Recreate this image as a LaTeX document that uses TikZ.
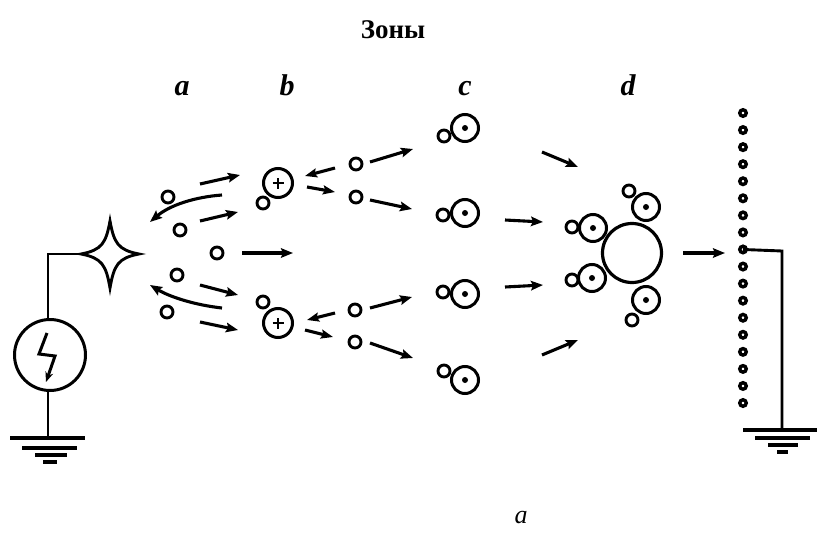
\documentclass[tikz,border=0pt]{standalone}
\usepackage{fontspec}
\setmainfont{Liberation Serif}
\usetikzlibrary{arrows.meta}

\tikzset{
  wire/.style={line width=2.9pt},
  earth/.style={line width=4pt},
  ion/.style={circle, draw, line width=2.9pt, minimum size=12pt, inner sep=0pt},
  posion/.style={circle, draw, line width=3pt, minimum size=29pt, inner sep=0pt},
  ring/.style={circle, draw, line width=3pt, minimum size=27pt, inner sep=0pt},
  core/.style={circle, fill, minimum size=6pt, inner sep=0pt},
  drop/.style={circle, draw, line width=3.2pt, minimum size=59pt, inner sep=0pt},
  bead/.style={circle, draw, line width=3.4pt, minimum size=6.5pt, inner sep=0pt},
  flow/.style={line width=3.1pt, -{Stealth[length=12pt,width=9.5pt,inset=2pt]}},
  shortflow/.style={line width=3.1pt, -{Stealth[length=12pt,width=9pt,inset=2pt]}},
  zone/.style={font=\fontsize{30}{30}\selectfont\bfseries\itshape, anchor=base},
}

\begin{document}
\begin{tikzpicture}[x=1pt, y=-1pt]
\useasboundingbox (0,0) rectangle (828,533);

% titles
\node[font=\fontsize{27}{27}\selectfont\bfseries, anchor=base] (title) at (393,38) {Зоны};
\node[zone] (za) at (182,95) {a};
\node[zone] (zb) at (287,95) {b};
\node[zone] (zc) at (465,95) {c};
\node[zone] (zd) at (628,95) {d};
\node[font=\fontsize{26}{26}\selectfont\itshape, anchor=base] (caption) at (521,523) {a};

% corona electrode (four-pointed star)
\coordinate (star) at (110,254);
\coordinate (starL) at (81,254);
\draw[wire, line join=miter]
  (81,254) .. controls (102,250) and (106,243) .. (110,221)
           .. controls (114,243) and (118,250) .. (139,254)
           .. controls (118,258) and (114,265) .. (110,288)
           .. controls (106,265) and (102,258) .. (81,254) -- cycle;

% high-voltage source
\node[circle, draw, line width=3pt, minimum size=71pt, inner sep=0pt] (src) at (50,355) {};
\draw[line width=3pt, -{Stealth[length=10pt,width=8pt]}]
  ([shift={(-3,-22)}]src.center) -- ([shift={(-11,-1)}]src.center)
  -- ([shift={(5,1)}]src.center) -- ([shift={(-4,27)}]src.center);
\coordinate (lcorner) at (48,254);
\coordinate (lgnd) at (48,438);
\draw[wire] (starL) -- (lcorner) -- (lcorner |- src.north);
\draw[wire] (lcorner |- src.south) -- (lgnd);
\draw[earth] (10,438) -- (85,438);
\draw[earth] (22,448) -- (77,448);
\draw[earth] (35,455) -- (67,455);
\draw[earth] (43,462) -- (57,462);

% zone a: electrons and ions near the electrode
\node[ion] (a1) at (168,197) {};
\node[ion] (a2) at (180,230) {};
\node[ion] (a3) at (217,253) {};
\node[ion] (a4) at (177,275) {};
\node[ion] (a5) at (167,312) {};
\draw[flow] (222,195) .. controls (195,197) and (170,205) .. (150,222);
\draw[flow] (222,308) .. controls (195,305) and (170,297) .. (150,285);
\draw[flow] (200,184) -- (240,175);
\draw[flow] (200,221) -- (238,212);
\draw[flow] (242,253) -- (293,253);
\draw[flow] (200,285) -- (238,295);
\draw[flow] (200,322) -- (238,330);

% zone b: positive ions with attached electrons
\node[posion] (b1) at (278,183) {};
\node[ion] (b1e) at (263,203) {};
\node[posion] (b2) at (278,323) {};
\node[ion] (b2e) at (263,302) {};
\foreach \p in {b1,b2}{
  \draw[line width=2.6pt] ([xshift=-5.5pt]\p.center) -- ([xshift=5.5pt]\p.center);
  \draw[line width=2.6pt] ([yshift=-5.5pt]\p.center) -- ([yshift=5.5pt]\p.center);
}
\draw[shortflow] (335,168) -- (305,176);
\draw[shortflow] (307,187) -- (335,192);
\draw[shortflow] (335,313) -- (307,320);
\draw[shortflow] (305,330) -- (333,337);

% zone c: charged particles
\node[ion] (c1) at (356,164) {};
\node[ion] (c2) at (356,197) {};
\node[ion] (c3) at (355,310) {};
\node[ion] (c4) at (355,342) {};
\draw[flow] (370,162) -- (413,149);
\draw[flow] (370,200) -- (412,209);
\draw[flow] (370,308) -- (412,297);
\draw[flow] (370,343) -- (413,358);

\node[ring] (m1) at (465,128) {};
\node[ring] (m2) at (465,213) {};
\node[ring] (m3) at (465,294) {};
\node[ring] (m4) at (465,380) {};
\node[ion] (m1e) at (444,136) {};
\node[ion] (m2e) at (443,215) {};
\node[ion] (m3e) at (443,292) {};
\node[ion] (m4e) at (444,371) {};
\foreach \m in {m1,m2,m3,m4} \node[core] at (\m.center) {};

\draw[flow] (542,152) -- (578,167);
\draw[flow] (505,220) -- (543,222);
\draw[flow] (505,287) -- (543,285);
\draw[flow] (542,355) -- (578,340);

% zone d: particle charging on a dust grain
\node[drop] (grain) at (632,253) {};
\node[ring] (d1) at (593,228) {};
\node[ring] (d2) at (592,278) {};
\node[ring] (d3) at (646,207) {};
\node[ring] (d4) at (646,300) {};
\node[ion] (d1e) at (572,227) {};
\node[ion] (d2e) at (572,280) {};
\node[ion] (d3e) at (629,191) {};
\node[ion] (d4e) at (632,320) {};
\foreach \m in {d1,d2,d3,d4} \node[core] at (\m.center) {};

\draw[flow] (683,253) -- (725,253);

% collecting electrode
\foreach \i in {1,...,18}{
  \node[bead] (k\i) at (743,{113+(\i-1)*17.06}) {};
}
\coordinate (rcorner) at (782,251);
\coordinate (rgnd) at (782,430);
\draw[wire] (k9.center) -- (rcorner) -- (rgnd);
\draw[earth] (743,430) -- (817,430);
\draw[earth] (755,438) -- (810,438);
\draw[earth] (768,445) -- (798,445);
\draw[earth] (777,452) -- (788,452);
\end{tikzpicture}
\end{document}
